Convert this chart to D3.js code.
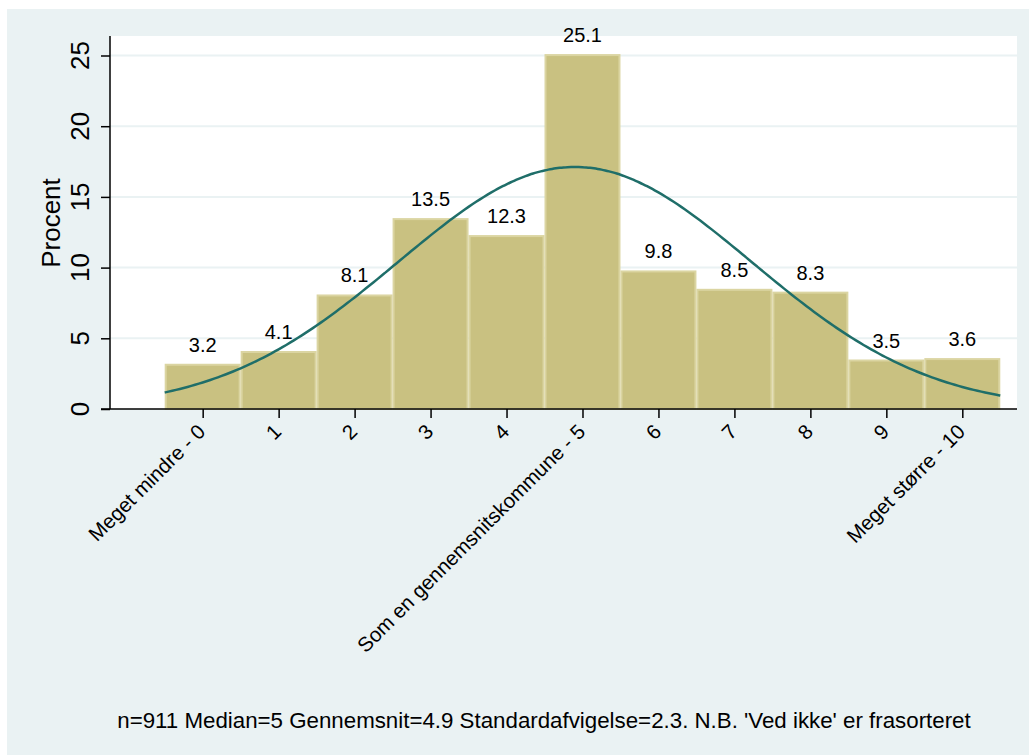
<!DOCTYPE html>
<html><head><meta charset="utf-8">
<script src="https://cdn.jsdelivr.net/npm/d3@7"></script>
<style>html,body{margin:0;padding:0;background:#fff;}svg{display:block;font-family:"Liberation Sans",Arial,sans-serif;}</style>
</head><body>
<script>
const categories = [0,1,2,3,4,5,6,7,8,9,10];
const tickLabels = ["Meget mindre - 0","1","2","3","4","Som en gennemsnitskommune - 5","6","7","8","9","Meget større - 10"];
const percents = [3.2,4.1,8.1,13.5,12.3,25.1,9.8,8.5,8.3,3.5,3.6];
const yTicks = [0,5,10,15,20,25];
const meanValue = 4.9;
const sdValue = 2.33;
const yTitle = "Procent";
const note = "n=911 Median=5 Gennemsnit=4.9 Standardafvigelse=2.3. N.B. 'Ved ikke' er frasorteret";

const W = 1029, H = 755;
const svg = d3.select("body").append("svg").attr("width", W).attr("height", H);
svg.append("rect").attr("x", 7).attr("y", 9).attr("width", W - 7).attr("height", H - 9).attr("fill", "#EAF2F3");

const x = d3.scaleLinear().domain([-1.22, 10.72]).range([110, 1017]);
const y = d3.scaleLinear().domain([0, 25]).range([409, 55.5]);
const plotTop = y(26.38);

svg.append("rect").attr("x", x(-1.22)).attr("y", plotTop).attr("width", x(10.72) - x(-1.22)).attr("height", y(0) - plotTop).attr("fill", "#fff");

// gridlines
svg.append("g").selectAll("line").data(yTicks.filter(d => d > 0)).join("line")
  .attr("x1", x(-1.22)).attr("x2", x(10.72)).attr("y1", d => y(d)).attr("y2", d => y(d))
  .attr("stroke", "#EAF2F3").attr("stroke-width", 2);

// bars
svg.append("g").selectAll("rect").data(categories).join("rect")
  .attr("x", d => x(d - 0.5) + 1).attr("width", d => x(d + 0.5) - x(d - 0.5) - 2)
  .attr("y", (d, i) => y(percents[i]) + 1).attr("height", (d, i) => y(0) - y(percents[i]) - 1)
  .attr("fill", "#C9C181").attr("stroke", "#DBD5A2").attr("stroke-width", 2);

// normal curve
const curvePts = d3.range(-0.5, 10.5001, 0.05).map(v => [v, 100 / (sdValue * Math.sqrt(2 * Math.PI)) * Math.exp(-0.5 * Math.pow((v - meanValue) / sdValue, 2))]);
svg.append("path").datum(curvePts)
  .attr("d", d3.line().x(d => x(d[0])).y(d => y(d[1])).curve(d3.curveBasis))
  .attr("fill", "none").attr("stroke", "#1F6E69").attr("stroke-width", 2.5);

// value labels
svg.append("g").selectAll("text").data(categories).join("text")
  .attr("x", d => x(d)).attr("y", (d, i) => y(percents[i]) - 12)
  .attr("text-anchor", "middle").attr("font-size", 20).attr("fill", "#000")
  .text((d, i) => percents[i].toFixed(1));

// y axis
const yAxis = svg.append("g").attr("transform", `translate(${x(-1.22)},0)`)
  .call(d3.axisLeft(y).tickValues(yTicks).tickSize(9).tickFormat(""));
yAxis.select(".domain").attr("d", `M0,${plotTop}V${y(0)}`).attr("stroke", "#000").attr("stroke-width", 1.5);
yAxis.selectAll(".tick line").attr("stroke", "#000").attr("stroke-width", 1.5);
svg.append("g").selectAll("text").data(yTicks).join("text")
  .attr("transform", d => `translate(89,${y(d)}) rotate(-90)`)
  .attr("text-anchor", "middle").attr("font-size", 26).text(d => d);
svg.append("text").attr("transform", `translate(60,223) rotate(-90)`)
  .attr("text-anchor", "middle").attr("font-size", 26).text(yTitle);

// x axis
const xAxis = svg.append("g").attr("transform", `translate(0,${y(0)})`)
  .call(d3.axisBottom(x).tickValues(categories).tickSize(9).tickFormat(""));
xAxis.select(".domain").attr("d", `M${x(-1.22) - 9},0H${x(10.72)}`).attr("stroke", "#000").attr("stroke-width", 1.5);
xAxis.selectAll(".tick line").attr("stroke", "#000").attr("stroke-width", 1.5);
svg.append("g").selectAll("text").data(categories).join("text")
  .attr("transform", d => `translate(${x(d) + 4},${y(0) + 24}) rotate(-45)`)
  .attr("text-anchor", "end").attr("font-size", 20.5).text((d, i) => tickLabels[i]);

svg.append("text").attr("x", 544).attr("y", 728).attr("text-anchor", "middle").attr("font-size", 22.3).text(note);
</script>
</body></html>
